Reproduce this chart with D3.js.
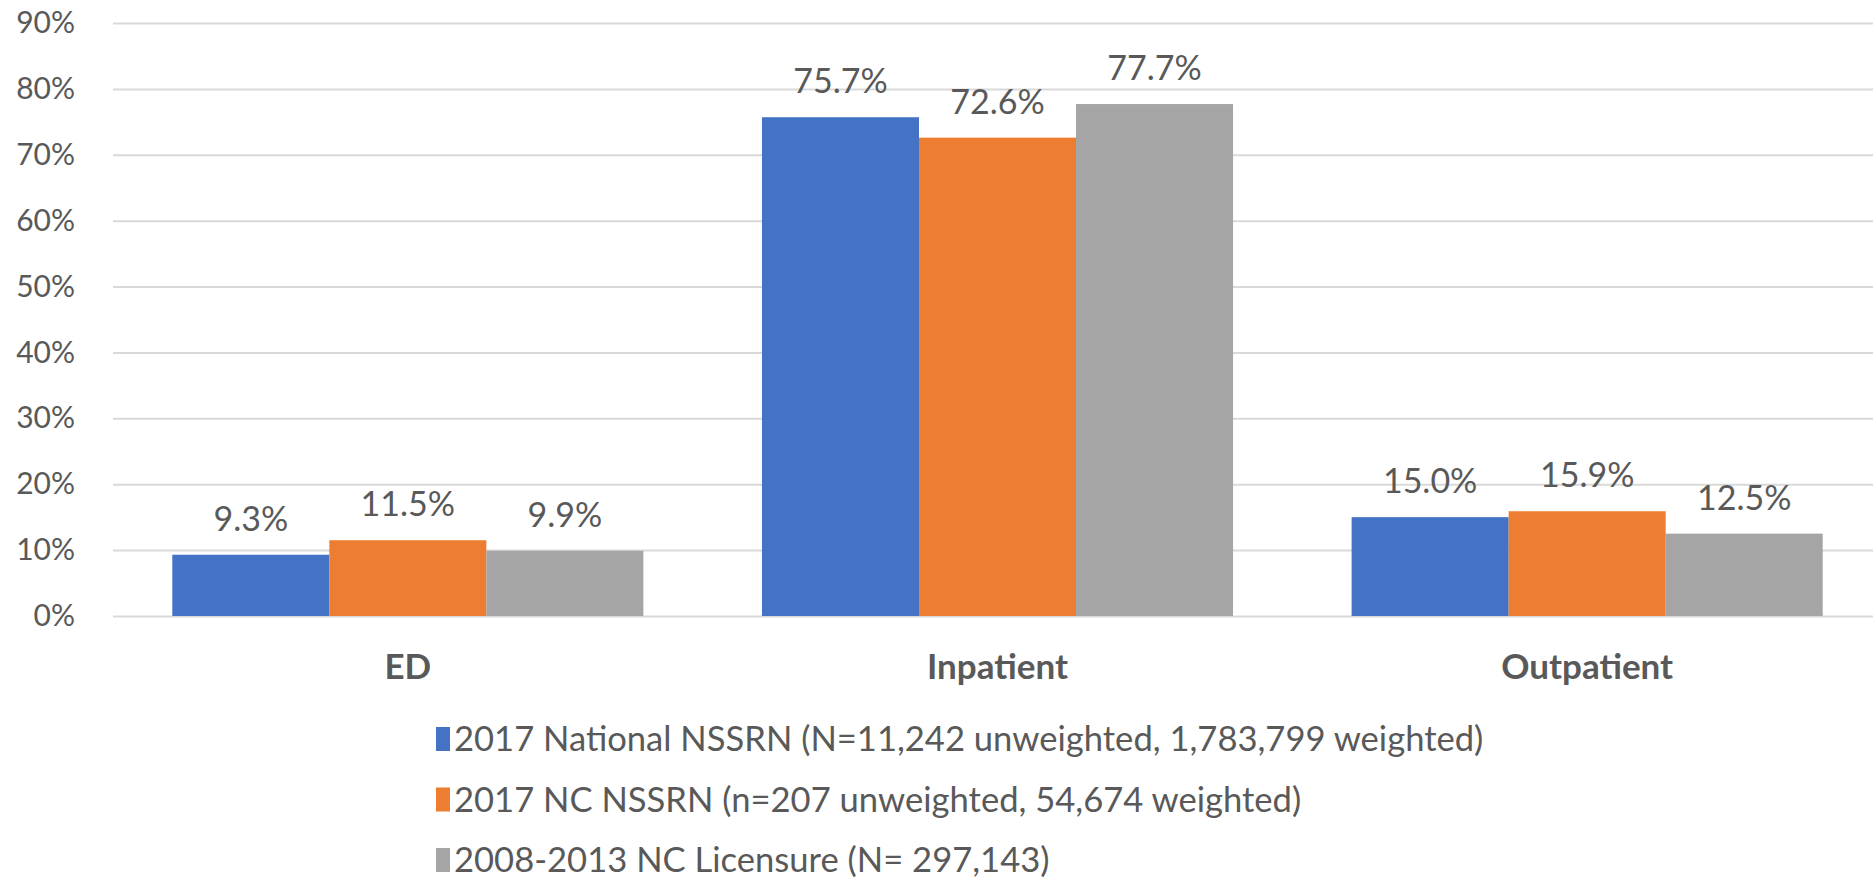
<!DOCTYPE html>
<html>
<head>
<meta charset="utf-8">
<script src="https://cdn.jsdelivr.net/npm/d3@7"></script>
<style>
  body { margin: 0; background: #fff; }
  text { font-family: Lato, "Open Sans", sans-serif; fill: #595959; }
</style>
</head>
<body>
<div id="chart"></div>
<script>
/* DATA */
const categories = ["ED", "Inpatient", "Outpatient"];
const seriesNames = [
  "2017 National NSSRN (N=11,242 unweighted, 1,783,799 weighted)",
  "2017 NC NSSRN (n=207 unweighted, 54,674 weighted)",
  "2008-2013 NC Licensure (N= 297,143)"
];
const nationalValues = [0.093, 0.757, 0.150];
const ncValues = [0.115, 0.726, 0.159];
const licensureValues = [0.099, 0.777, 0.125];
const yTicks = [0, 0.1, 0.2, 0.3, 0.4, 0.5, 0.6, 0.7, 0.8, 0.9];
const colors = ["#4472C4", "#ED7D31", "#A5A5A5"];

/* CONSTANTS */
const width = 1873,
  height = 885,
  margin = {top: 23, left: 113, right: -9, bottom: 269};

const allSeries = [nationalValues, ncValues, licensureValues];
const rows = categories.map((c, i) => ({
  category: c,
  values: allSeries.map((s, j) => ({series: j, value: s[i]}))
}));

const svg = d3.select("#chart")
  .append("svg")
  .attr("width", width)
  .attr("height", height);

// scales
const xScale = d3.scaleBand()
  .domain(categories)
  .range([margin.left, width - margin.right])
  .padding(0);

const xInner = d3.scaleBand()
  .domain(d3.range(seriesNames.length))
  .range([0, xScale.bandwidth()])
  .paddingInner(0)
  .paddingOuter(0.3775);

const yScale = d3.scaleLinear()
  .domain([0, 0.9])
  .range([height - margin.bottom, margin.top]);

// y axis + gridlines
const yAxis = d3.axisLeft(yScale)
  .tickValues(yTicks)
  .tickFormat(d3.format(".0%"))
  .tickSizeInner(-(width - margin.left))
  .tickSizeOuter(0)
  .tickPadding(38);

const yAxisGroup = svg.append("g")
  .attr("transform", `translate(${margin.left}, 0)`)
  .call(yAxis);

yAxisGroup.select(".domain").remove();
yAxisGroup.selectAll(".tick line")
  .attr("stroke", "#D9D9D9")
  .attr("stroke-width", 2);
yAxisGroup.selectAll(".tick text")
  .style("font-size", "30px")
  .attr("fill", "#595959");

// bars
const groups = svg.selectAll(".group")
  .data(rows)
  .join("g")
  .attr("class", "group")
  .attr("transform", d => `translate(${xScale(d.category)}, 0)`);

groups.selectAll("rect")
  .data(d => d.values)
  .join("rect")
  .attr("x", d => xInner(d.series))
  .attr("width", xInner.bandwidth())
  .attr("y", d => yScale(d.value))
  .attr("height", d => yScale(0) - yScale(d.value))
  .attr("fill", d => colors[d.series]);

// value labels
groups.selectAll(".value-label")
  .data(d => d.values)
  .join("text")
  .attr("class", "value-label")
  .attr("x", d => xInner(d.series) + xInner.bandwidth() / 2)
  .attr("y", d => yScale(d.value) - 24)
  .attr("text-anchor", "middle")
  .style("font-size", "34px")
  .text(d => d3.format(".1%")(d.value));

// category labels
svg.selectAll(".cat-label")
  .data(categories)
  .join("text")
  .attr("class", "cat-label")
  .attr("x", d => xScale(d) + xScale.bandwidth() / 2)
  .attr("y", 679)
  .attr("text-anchor", "middle")
  .attr("font-weight", "bold")
  .style("font-size", "35px")
  .text(d => d);

// legend
const legend = svg.append("g")
  .attr("transform", "translate(436, 739)");

const legendItems = legend.selectAll(".legend-item")
  .data(seriesNames)
  .join("g")
  .attr("class", "legend-item")
  .attr("transform", (d, i) => `translate(0, ${i * 60.5})`);

legendItems.append("rect")
  .attr("x", 0)
  .attr("y", -12)
  .attr("width", 14)
  .attr("height", 24)
  .attr("fill", (d, i) => colors[i]);

legendItems.append("text")
  .attr("x", 18)
  .attr("y", 0)
  .attr("dy", "0.35em")
  .style("font-size", "34.6px")
  .text(d => d);
</script>
</body>
</html>
